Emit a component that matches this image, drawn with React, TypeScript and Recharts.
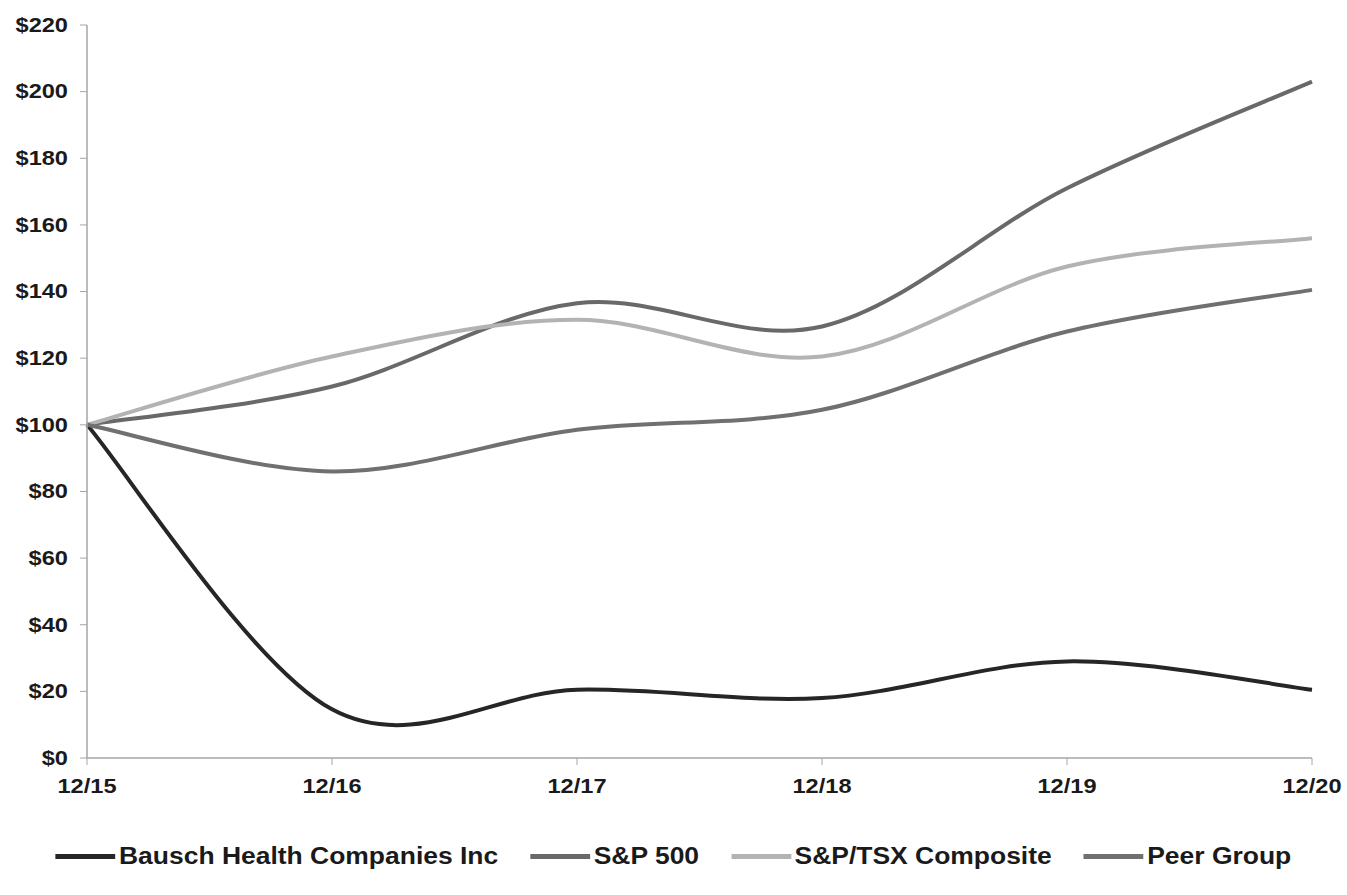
import React from 'react';
import { LineChart, Line, XAxis, YAxis, Legend } from 'recharts';

const years = ['12/15', '12/16', '12/17', '12/18', '12/19', '12/20'];
const bausch = [100, 14.6, 20.5, 18, 29, 20.5];
const sp500 = [100, 111.5, 136.5, 129.5, 171, 203];
const tsx = [100, 120.5, 131.5, 120.5, 147.5, 156];
const peer = [100, 86, 98.5, 104.5, 128, 140.5];
const yTicks = [0, 20, 40, 60, 80, 100, 120, 140, 160, 180, 200, 220];

const series = [
  { key: 'bausch', name: 'Bausch Health Companies Inc', color: '#262626' },
  { key: 'sp500', name: 'S&P 500', color: '#696969' },
  { key: 'tsx', name: 'S&P/TSX Composite', color: '#b3b3b3' },
  { key: 'peer', name: 'Peer Group', color: '#707070' },
];

const data = years.map((label, i) => ({
  label,
  bausch: bausch[i],
  sp500: sp500[i],
  tsx: tsx[i],
  peer: peer[i],
}));

// Excel-style smoothing (Catmull-Rom through every point)
function excelSmooth(context: any) {
  let xs: number[] = [];
  let ys: number[] = [];
  return {
    areaStart() {},
    areaEnd() {},
    lineStart() {
      xs = [];
      ys = [];
    },
    point(x: number, y: number) {
      xs.push(+x);
      ys.push(+y);
    },
    lineEnd() {
      const n = xs.length;
      if (!n) return;
      context.moveTo(xs[0], ys[0]);
      for (let i = 0; i < n - 1; i++) {
        const a = Math.max(i - 1, 0);
        const d = Math.min(i + 2, n - 1);
        context.bezierCurveTo(
          xs[i] + (xs[i + 1] - xs[a]) / 6,
          ys[i] + (ys[i + 1] - ys[a]) / 6,
          xs[i + 1] - (xs[d] - xs[i]) / 6,
          ys[i + 1] - (ys[d] - ys[i]) / 6,
          xs[i + 1],
          ys[i + 1]
        );
      }
    },
  };
}

const font = 'Liberation Sans, Arial, sans-serif';
const textColor = '#1a1a1a';

// the source text is a bit wider than plain Arial bold, so stretch it
const YTick = ({ x, y, payload }: any) => (
  <text
    transform={`translate(${x},${y}) scale(1.18,1)`}
    textAnchor="end"
    dominantBaseline="central"
    fill={textColor}
    fontSize={20}
    fontWeight={700}
    fontFamily={font}
  >
    ${payload.value}
  </text>
);

const XTick = ({ x, y, payload }: any) => (
  <text
    transform={`translate(${x},${y + 15}) scale(1.18,1)`}
    textAnchor="middle"
    dominantBaseline="central"
    fill={textColor}
    fontSize={20}
    fontWeight={700}
    fontFamily={font}
  >
    {payload.value}
  </text>
);

const LegendRow = () => (
  <div
    style={{
      display: 'flex',
      justifyContent: 'center',
      alignItems: 'center',
      height: 34,
      fontFamily: font,
      fontWeight: 700,
      fontSize: 23,
      color: textColor,
      transform: 'scaleX(1.15)',
      transformOrigin: '50% 50%',
    }}
  >
    {series.map((s) => (
      <div key={s.key} style={{ display: 'flex', alignItems: 'center', margin: '0 14px' }}>
        <div style={{ width: 52, height: 5, background: s.color, marginRight: 3 }} />
        <span>{s.name}</span>
      </div>
    ))}
  </div>
);

export default function App() {
  return (
    <div style={{ position: 'absolute', left: 0, top: 0, background: '#fff' }}>
      <LineChart
        width={1347}
        height={895}
        data={data}
        margin={{ top: 25, right: 35, left: 0, bottom: 73 }}
      >
        <XAxis
          dataKey="label"
          padding={{ left: 0, right: 0 }}
          axisLine={{ stroke: '#a6a6a6', strokeWidth: 1.5 }}
          tickLine={{ stroke: '#a6a6a6' }}
          tickSize={7}
          tickMargin={6}
          height={30}
          interval={0}
          tick={<XTick />}
        />
        <YAxis
          domain={[0, 220]}
          ticks={yTicks}
          width={87}
          interval={0}
          axisLine={{ stroke: '#a6a6a6', strokeWidth: 1.5 }}
          tickLine={{ stroke: '#a6a6a6' }}
          tickSize={7}
          tickMargin={12}
          tick={<YTick />}
        />
        <Legend
          verticalAlign="bottom"
          content={<LegendRow />}
          wrapperStyle={{ left: 0, width: 1347, bottom: 22 }}
        />
        {series.map((s) => (
          <Line
            key={s.key}
            dataKey={s.key}
            name={s.name}
            type={excelSmooth as any}
            stroke={s.color}
            strokeWidth={4}
            dot={false}
            activeDot={false}
            isAnimationActive={false}
          />
        ))}
      </LineChart>
    </div>
  );
}
